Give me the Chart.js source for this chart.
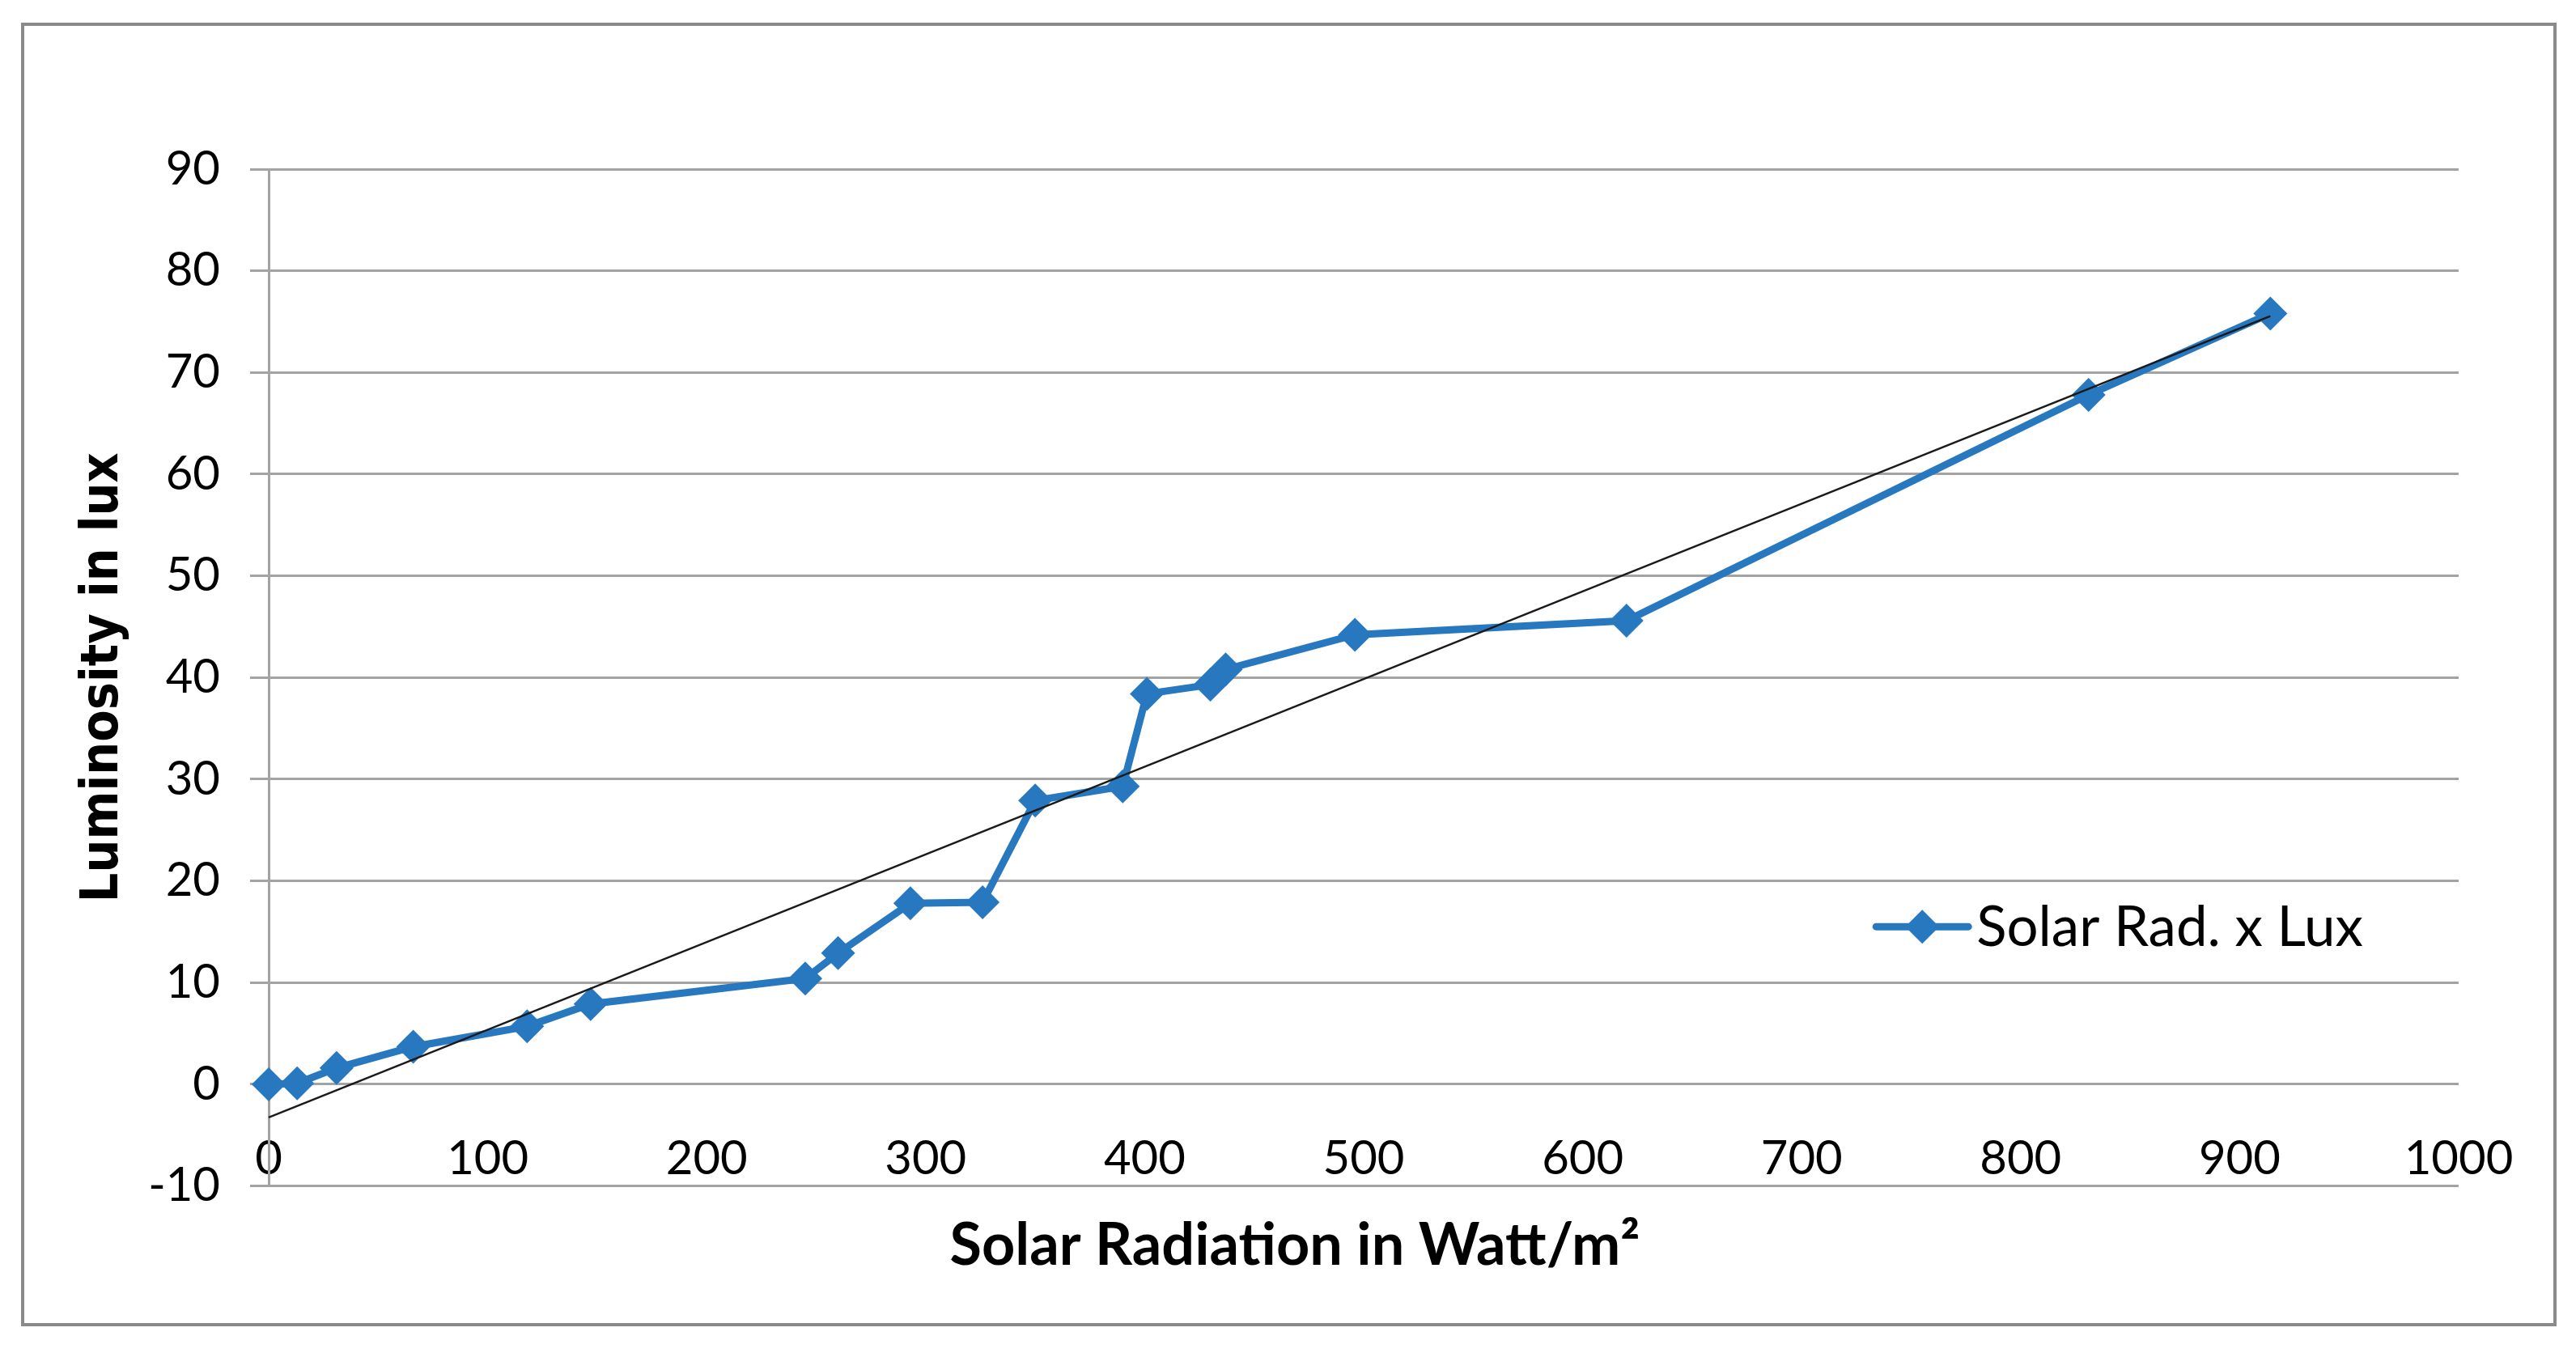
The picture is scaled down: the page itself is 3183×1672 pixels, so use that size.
<!DOCTYPE html>
<html>
<head>
<meta charset="utf-8">
<script src="https://cdn.jsdelivr.net/npm/chart.js@4.4.1/dist/chart.umd.min.js"></script>
<style>
  html, body { margin: 0; padding: 0; background: #ffffff; }
  canvas { display: block; }
</style>
</head>
<body>
<canvas id="c" width="3183" height="1672"></canvas>
<script>
// ---- data ----
const solarRadiation = [0, 13, 31, 66, 118, 147, 245, 260, 293, 326, 350, 390, 401, 430, 437, 496, 620, 831, 914];
const luminosity     = [0, 0.1, 1.6, 3.7, 5.7, 7.9, 10.4, 12.9, 17.8, 17.9, 27.9, 29.3, 38.4, 39.3, 40.8, 44.2, 45.6, 67.8, 75.8];
const seriesLabel = 'Solar Rad. x Lux';
const xAxisTitle = 'Solar Radiation in Watt/m²';
const yAxisTitle = 'Luminosity in lux';
const xTickMin = 0, xTickMax = 1000, xTickStep = 100;
const yTickMin = -10, yTickMax = 90, yTickStep = 10;

// linear trendline (least squares) over the data range
const n = solarRadiation.length;
const mx = solarRadiation.reduce((a, b) => a + b, 0) / n;
const my = luminosity.reduce((a, b) => a + b, 0) / n;
let sxy = 0, sxx = 0;
for (let i = 0; i < n; i++) {
  sxy += (solarRadiation[i] - mx) * (luminosity[i] - my);
  sxx += (solarRadiation[i] - mx) ** 2;
}
const slope = sxy / sxx;
const intercept = my - slope * mx;
const xFirst = Math.min(...solarRadiation), xLast = Math.max(...solarRadiation);
const trendPoints = [
  { x: xFirst, y: intercept + slope * xFirst },
  { x: xLast, y: intercept + slope * xLast }
];

const BLUE = '#2878c0';
const GRID = '#a3a3a3';
const TICK_FONT = { family: 'Lato, "Open Sans", sans-serif', size: 58 };

const framePlugin = {
  id: 'frame',
  beforeDraw(chart) {
    const ctx = chart.ctx;
    ctx.save();
    ctx.fillStyle = '#ffffff';
    ctx.fillRect(0, 0, chart.width, chart.height);
    ctx.strokeStyle = '#8a8a8a';
    ctx.lineWidth = 4;
    ctx.strokeRect(28, 30, chart.width - 28 - 26, chart.height - 30 - 35);
    ctx.restore();
  }
};

const legendPlugin = {
  id: 'insideLegend',
  afterDraw(chart) {
    const ds = chart.data.datasets[1];
    const a = chart.chartArea;
    const ctx = chart.ctx;
    const x0 = a.left + (a.right - a.left) * 0.734;
    const y0 = a.top + (a.bottom - a.top) * 0.745;
    const len = 114;
    ctx.save();
    ctx.strokeStyle = ds.borderColor;
    ctx.lineWidth = ds.borderWidth;
    ctx.lineCap = 'round';
    ctx.beginPath();
    ctx.moveTo(x0, y0);
    ctx.lineTo(x0 + len, y0);
    ctx.stroke();
    const r = ds.pointRadius;
    const cx = x0 + len / 2;
    ctx.fillStyle = ds.pointBackgroundColor;
    ctx.beginPath();
    ctx.moveTo(cx - r, y0);
    ctx.lineTo(cx, y0 - r);
    ctx.lineTo(cx + r, y0);
    ctx.lineTo(cx, y0 + r);
    ctx.closePath();
    ctx.fill();
    ctx.fillStyle = '#000000';
    ctx.font = '69px Lato, "Open Sans", sans-serif';
    ctx.textBaseline = 'middle';
    ctx.textAlign = 'left';
    ctx.fillText(ds.label, x0 + len + 10, y0 + 2);
    ctx.restore();
  }
};

new Chart(document.getElementById('c'), {
  type: 'scatter',
  data: {
    datasets: [
      {
        label: 'Linear trend',
        data: trendPoints,
        showLine: true,
        borderColor: '#1a1a1a',
        borderWidth: 2.5,
        pointRadius: 0,
        pointHoverRadius: 0,
        tension: 0,
        clip: false,
        order: 0
      },
      {
        label: seriesLabel,
        data: solarRadiation.map((x, i) => ({ x, y: luminosity[i] })),
        showLine: true,
        borderColor: BLUE,
        backgroundColor: BLUE,
        borderWidth: 9,
        pointStyle: 'rectRot',
        pointRadius: 21,
        pointBackgroundColor: BLUE,
        pointBorderColor: BLUE,
        pointBorderWidth: 0,
        tension: 0,
        clip: false,
        order: 1
      }
    ]
  },
  options: {
    responsive: false,
    devicePixelRatio: 1,
    animation: false,
    events: [],
    layout: { padding: { left: 162, right: 145, top: 209, bottom: 0 } },
    plugins: {
      legend: { display: false },
      tooltip: { enabled: false },
      title: {
        display: true,
        position: 'bottom',
        text: xAxisTitle,
        color: '#000000',
        font: { family: 'Lato, "Open Sans", sans-serif', size: 72, weight: 'bold' },
        padding: { top: 31, bottom: 89 }
      }
    },
    scales: {
      x: {
        type: 'linear',
        position: { y: 0 },
        min: xTickMin,
        max: xTickMax,
        grid: { display: false },
        border: { display: false },
        ticks: {
          stepSize: xTickStep,
          color: '#000000',
          font: TICK_FONT,
          padding: 50,
          maxRotation: 0,
          autoSkip: false,
          callback: (v) => String(v)
        }
      },
      y: {
        type: 'linear',
        position: 'left',
        min: yTickMin,
        max: yTickMax,
        grid: { color: GRID, lineWidth: 3, drawTicks: true, tickLength: 23 },
        border: { display: true, color: GRID, width: 3 },
        ticks: {
          stepSize: yTickStep,
          color: '#000000',
          font: TICK_FONT,
          padding: 37,
          callback: (v) => String(v)
        },
        title: {
          display: true,
          text: yAxisTitle,
          color: '#000000',
          font: { family: '"DejaVu Sans Condensed", "DejaVu Sans", sans-serif', size: 64, weight: 'bold' },
          padding: { top: -72, bottom: 0 }
        },
        afterFit(scale) { scale.width = 170; }
      }
    }
  },
  plugins: [framePlugin, legendPlugin]
});
</script>
</body>
</html>
